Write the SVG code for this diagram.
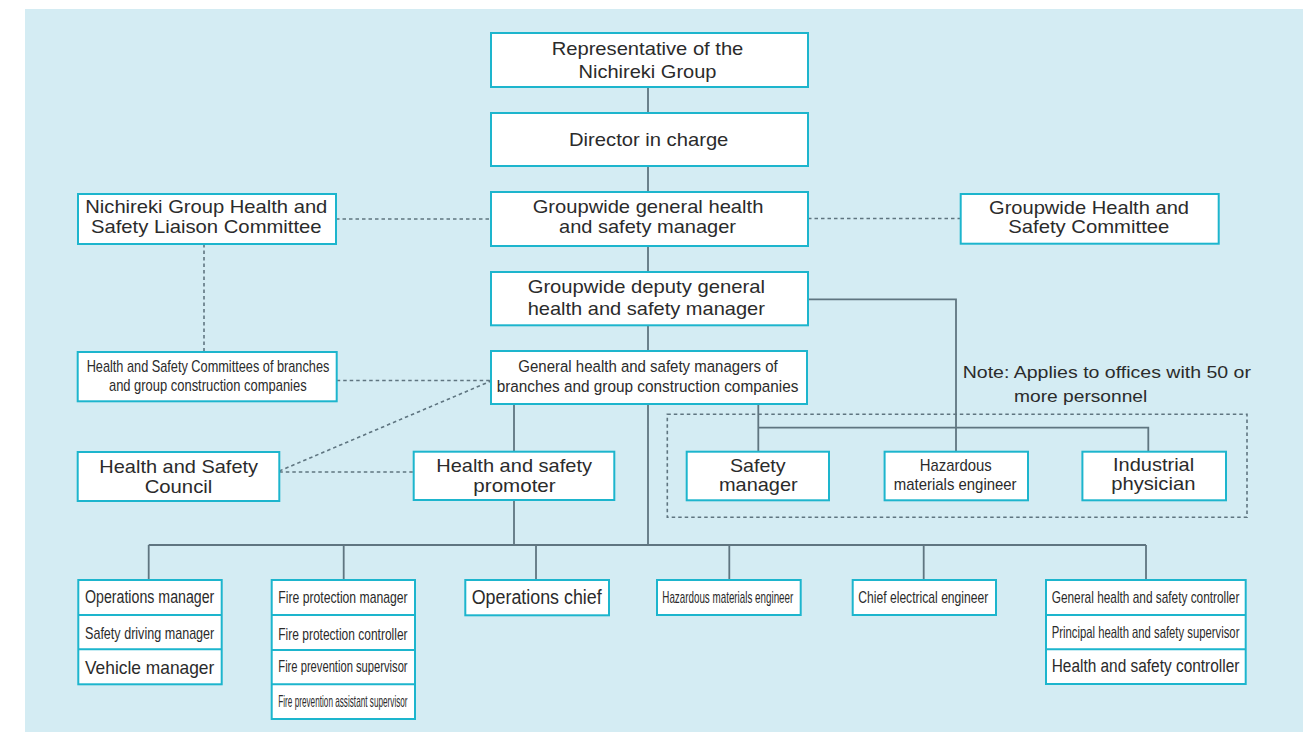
<svg xmlns="http://www.w3.org/2000/svg" width="1313" height="732" viewBox="0 0 1313 732">
<style>
.bg{fill:#d4ecf3}
.box{fill:#ffffff;stroke:#1db5cd;stroke-width:2}
.sep{stroke:#1db5cd;stroke-width:2}
.ln{fill:none;stroke:#5f7580;stroke-width:1.8}
.dt{fill:none;stroke:#5f7580;stroke-width:1.6;stroke-dasharray:3.5 3}
text{font-family:"Liberation Sans",Arial,Helvetica,sans-serif;fill:#2b2b2b}
.c{text-anchor:middle}
.l{text-anchor:start}
</style>
<rect class="bg" x="25" y="9" width="1278" height="723"/>
<g id="connectors">
  <path class="ln" d="M648 87V113M648 166V192M648 246V272M648 325V351"/>
  <path class="ln" d="M808 299.3H956V452"/>
  <path class="ln" d="M514 404V452M648 404V545M758.3 404V452M758.3 427.7H1148.3V452"/>
  <path class="ln" d="M514 500V546M148.7 545H1146M148.7 545V580M343.7 545V580M536 545V580M729.3 545V580M923.7 545V580M1146 545V580"/>
  <path class="dt" d="M336 219H491M808 218.5H961M204 244V352M336.7 380.5H491M279.3 471L491 381M279.3 472H413.7"/>
  <rect class="dt" x="667.3" y="414.3" width="579.7" height="103"/>
</g>
<g id="n-representative">
  <rect class="box" x="491" y="33" width="317" height="54"/>
  <text class="c" x="647.5" y="55" font-size="18.5" textLength="191.7" lengthAdjust="spacingAndGlyphs">Representative of the</text>
  <text class="c" x="647.5" y="77.5" font-size="18.5" textLength="138" lengthAdjust="spacingAndGlyphs">Nichireki Group</text>
</g>
<g id="n-director">
  <rect class="box" x="491" y="113" width="317" height="53"/>
  <text class="c" x="648.7" y="145.5" font-size="18.5" textLength="159.3" lengthAdjust="spacingAndGlyphs">Director in charge</text>
</g>
<g id="n-groupwide-general">
  <rect class="box" x="491" y="192" width="317" height="54"/>
  <text class="c" x="648" y="213" font-size="18.5" textLength="230.7" lengthAdjust="spacingAndGlyphs">Groupwide general health</text>
  <text class="c" x="647.5" y="233" font-size="18.5" textLength="177" lengthAdjust="spacingAndGlyphs">and safety manager</text>
</g>
<g id="n-liaison">
  <rect class="box" x="78" y="194" width="258" height="50"/>
  <text class="c" x="206.3" y="213.3" font-size="18.5" textLength="242" lengthAdjust="spacingAndGlyphs">Nichireki Group Health and</text>
  <text class="c" x="206.3" y="233.3" font-size="18.5" textLength="230.7" lengthAdjust="spacingAndGlyphs">Safety Liaison Committee</text>
</g>
<g id="n-committee">
  <rect class="box" x="960.7" y="194" width="258" height="49.7"/>
  <text class="c" x="1089" y="214.3" font-size="18.5" textLength="200" lengthAdjust="spacingAndGlyphs">Groupwide Health and</text>
  <text class="c" x="1088.8" y="233.3" font-size="18.5" textLength="161" lengthAdjust="spacingAndGlyphs">Safety Committee</text>
</g>
<g id="n-deputy">
  <rect class="box" x="491" y="272" width="317" height="53.3"/>
  <text class="c" x="646.3" y="293.3" font-size="19" textLength="237.3" lengthAdjust="spacingAndGlyphs">Groupwide deputy general</text>
  <text class="c" x="646.3" y="315" font-size="19" textLength="237.3" lengthAdjust="spacingAndGlyphs">health and safety manager</text>
</g>
<g id="n-general-managers">
  <rect class="box" x="491" y="351" width="316" height="53"/>
  <text class="c" x="648" y="372.3" font-size="16.8" textLength="259.3" lengthAdjust="spacingAndGlyphs">General health and safety managers of</text>
  <text class="c" x="647.5" y="391.7" font-size="16.8" textLength="301.7" lengthAdjust="spacingAndGlyphs">branches and group construction companies</text>
</g>
<g id="n-branch-committees">
  <rect class="box" x="77.7" y="352" width="259" height="49.3"/>
  <text class="c" x="208" y="371.7" font-size="17" textLength="242.7" lengthAdjust="spacingAndGlyphs">Health and Safety Committees of branches</text>
  <text class="c" x="207.8" y="390.5" font-size="17" textLength="197.7" lengthAdjust="spacingAndGlyphs">and group construction companies</text>
</g>
<g id="n-council">
  <rect class="box" x="77.7" y="452" width="201.6" height="49"/>
  <text class="c" x="178.7" y="473.3" font-size="19" textLength="158.7" lengthAdjust="spacingAndGlyphs">Health and Safety</text>
  <text class="c" x="178.5" y="493.3" font-size="19" textLength="67.7" lengthAdjust="spacingAndGlyphs">Council</text>
</g>
<g id="n-promoter">
  <rect class="box" x="413.7" y="451.7" width="200.6" height="48.3"/>
  <text class="c" x="514.1" y="471.7" font-size="19" textLength="155.8" lengthAdjust="spacingAndGlyphs">Health and safety</text>
  <text class="c" x="514.5" y="491.7" font-size="19" textLength="82.3" lengthAdjust="spacingAndGlyphs">promoter</text>
</g>
<g id="note">
  <text class="l" x="962.7" y="378.3" font-size="17" textLength="288.3" lengthAdjust="spacingAndGlyphs">Note: Applies to offices with 50 or</text>
  <text class="l" x="1014" y="401.7" font-size="17" textLength="133.3" lengthAdjust="spacingAndGlyphs">more personnel</text>
</g>
<g id="n-safety-manager">
  <rect class="box" x="686.7" y="451.7" width="142.3" height="48.6"/>
  <text class="c" x="757.8" y="471.7" font-size="19" textLength="55.7" lengthAdjust="spacingAndGlyphs">Safety</text>
  <text class="c" x="758.3" y="490.5" font-size="19" textLength="78.7" lengthAdjust="spacingAndGlyphs">manager</text>
</g>
<g id="n-hazardous-top">
  <rect class="box" x="884.6" y="451.7" width="143.4" height="48.6"/>
  <text class="c" x="955.8" y="470.7" font-size="17" textLength="72" lengthAdjust="spacingAndGlyphs">Hazardous</text>
  <text class="c" x="955.2" y="490" font-size="17" textLength="122.8" lengthAdjust="spacingAndGlyphs">materials engineer</text>
</g>
<g id="n-industrial">
  <rect class="box" x="1082.4" y="451.7" width="143.6" height="48.6"/>
  <text class="c" x="1153.6" y="470.7" font-size="19" textLength="81.2" lengthAdjust="spacingAndGlyphs">Industrial</text>
  <text class="c" x="1153.3" y="490" font-size="19" textLength="84.2" lengthAdjust="spacingAndGlyphs">physician</text>
</g>
<g id="n-operations-stack">
  <rect class="box" x="78.3" y="580" width="143.4" height="104.3"/>
  <path class="sep" d="M78.3 615H221.7M78.3 649.3H221.7"/>
  <text class="l" x="85" y="603.3" font-size="17.5" textLength="129.3" lengthAdjust="spacingAndGlyphs">Operations manager</text>
  <text class="l" x="85" y="639" font-size="17" textLength="129.3" lengthAdjust="spacingAndGlyphs">Safety driving manager</text>
  <text class="l" x="85" y="673.5" font-size="18.5" textLength="129.3" lengthAdjust="spacingAndGlyphs">Vehicle manager</text>
</g>
<g id="n-fire-stack">
  <rect class="box" x="271.7" y="580" width="143.3" height="139"/>
  <path class="sep" d="M271.7 615H415M271.7 650H415M271.7 684.3H415"/>
  <text class="l" x="278.3" y="603.3" font-size="17" textLength="129.3" lengthAdjust="spacingAndGlyphs">Fire protection manager</text>
  <text class="l" x="278.3" y="640" font-size="17" textLength="129.3" lengthAdjust="spacingAndGlyphs">Fire protection controller</text>
  <text class="l" x="278.3" y="672.3" font-size="17" textLength="129.3" lengthAdjust="spacingAndGlyphs">Fire prevention supervisor</text>
  <text class="l" x="278.3" y="707" font-size="16.5" textLength="129.3" lengthAdjust="spacingAndGlyphs">Fire prevention assistant supervisor</text>
</g>
<g id="n-operations-chief">
  <rect class="box" x="465.3" y="580" width="143.7" height="35.3"/>
  <text class="l" x="471.7" y="604" font-size="19.5" textLength="130" lengthAdjust="spacingAndGlyphs">Operations chief</text>
</g>
<g id="n-hazardous-bottom">
  <rect class="box" x="657" y="580" width="143.7" height="35"/>
  <text class="l" x="662.3" y="603.3" font-size="17" textLength="131" lengthAdjust="spacingAndGlyphs">Hazardous materials engineer</text>
</g>
<g id="n-chief-electrical">
  <rect class="box" x="852.7" y="580" width="143.3" height="35"/>
  <text class="l" x="858.3" y="603.3" font-size="17" textLength="130" lengthAdjust="spacingAndGlyphs">Chief electrical engineer</text>
</g>
<g id="n-health-stack">
  <rect class="box" x="1046" y="580" width="199.7" height="104"/>
  <path class="sep" d="M1046 615H1245.7M1046 649.3H1245.7"/>
  <text class="l" x="1051.7" y="603.3" font-size="17" textLength="187.7" lengthAdjust="spacingAndGlyphs">General health and safety controller</text>
  <text class="l" x="1051.7" y="638.3" font-size="16.5" textLength="187.7" lengthAdjust="spacingAndGlyphs">Principal health and safety supervisor</text>
  <text class="l" x="1051.7" y="672" font-size="18" textLength="187.7" lengthAdjust="spacingAndGlyphs">Health and safety controller</text>
</g>
</svg>
